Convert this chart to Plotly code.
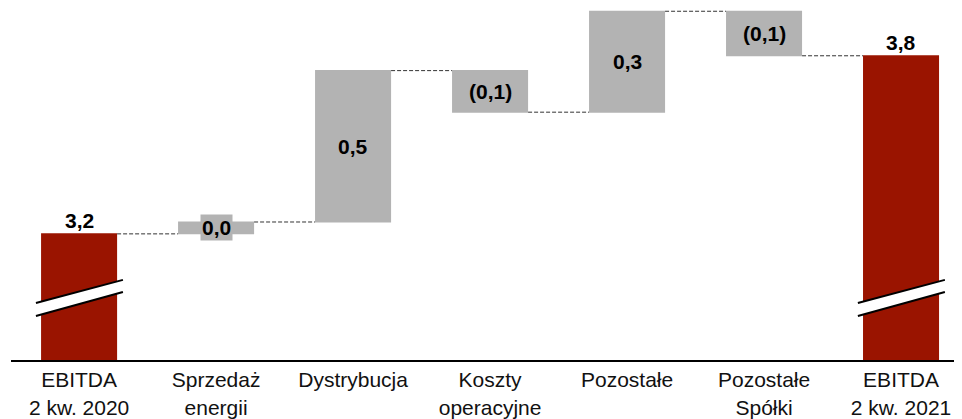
import plotly.graph_objects as go

# EBITDA bridge, 2 kw. 2020 -> 2 kw. 2021 (mld zl)
categories = [
    "EBITDA<br>2 kw. 2020",
    "Sprzedaż<br>energii",
    "Dystrybucja",
    "Koszty<br>operacyjne",
    "Pozostałe",
    "Pozostałe<br>Spółki",
    "EBITDA<br>2 kw. 2021",
]
measures = ["absolute", "relative", "relative", "relative", "relative", "relative", "total"]
values = [3.2, 0.04, 0.51, -0.14, 0.34, -0.15, 0]
labels = ["3,2", "0,0", "0,5", "(0,1)", "0,3", "(0,1)", "3,8"]

RED = "#9a1400"
GREY = "#b3b3b3"
FONT = "Liberation Sans, Arial, sans-serif"
Y_RANGE = [2.775, 3.961]

x_pos = list(range(len(categories)))

fig = go.Figure(
    go.Waterfall(
        x=x_pos,
        y=values,
        measure=measures,
        width=0.555,
        increasing={"marker": {"color": GREY}},
        decreasing={"marker": {"color": GREY}},
        totals={"marker": {"color": RED}},
        connector={"mode": "between", "line": {"color": "#333333", "width": 1, "dash": "4px,2px"}},
        hoverinfo="skip",
    )
)

# value labels: totals sit on top, the steps sit in the middle of the bar
running = 0.0
for i, (m, v, lab) in enumerate(zip(measures, values, labels)):
    if m == "absolute":
        running = v
    if m in ("absolute", "total"):
        fig.add_annotation(x=i, y=running, text=f"<b>{lab}</b>", showarrow=False,
                           yanchor="bottom", yshift=0)
    else:
        mid = running + v / 2
        running += v
        fig.add_annotation(x=i, y=mid, text=f"<b>{lab}</b>", showarrow=False,
                           yanchor="middle", bgcolor=GREY, borderpad=1)

# axis-break marks on the two EBITDA bars
for i, m in enumerate(measures):
    if m == "relative":
        continue
    x0, x1 = i - 0.315, i + 0.32
    lo0, lo1 = 2.923, 3.004
    hi0, hi1 = 2.967, 3.045
    fig.add_shape(type="path", xref="x", yref="y",
                  path=f"M {x0} {lo0} L {x1} {lo1} L {x1} {hi1} L {x0} {hi0} Z",
                  fillcolor="white", line={"width": 0}, layer="above")
    fig.add_shape(type="line", xref="x", yref="y", x0=x0, y0=lo0, x1=x1, y1=lo1,
                  line={"color": "black", "width": 2}, layer="above")
    fig.add_shape(type="line", xref="x", yref="y", x0=x0, y0=hi0, x1=x1, y1=hi1,
                  line={"color": "black", "width": 2}, layer="above")

fig.update_layout(
    width=954,
    height=411,
    margin={"l": 3, "r": 0, "t": 0, "b": 59},
    paper_bgcolor="#ffffff",
    plot_bgcolor="#ffffff",
    showlegend=False,
    font={"family": FONT, "size": 21, "color": "#000000"},
)
fig.update_xaxes(
    range=[-0.497, 6.445],
    tickvals=x_pos,
    ticktext=categories,
    showline=True,
    linecolor="black",
    linewidth=2,
    showgrid=False,
    zeroline=False,
    ticks="",
    ticklabelstandoff=0,
    tickfont={"family": FONT, "size": 21, "color": "#111111"},
)
fig.update_yaxes(range=Y_RANGE, visible=False, showgrid=False, zeroline=False)

fig.write_html("out.html")
